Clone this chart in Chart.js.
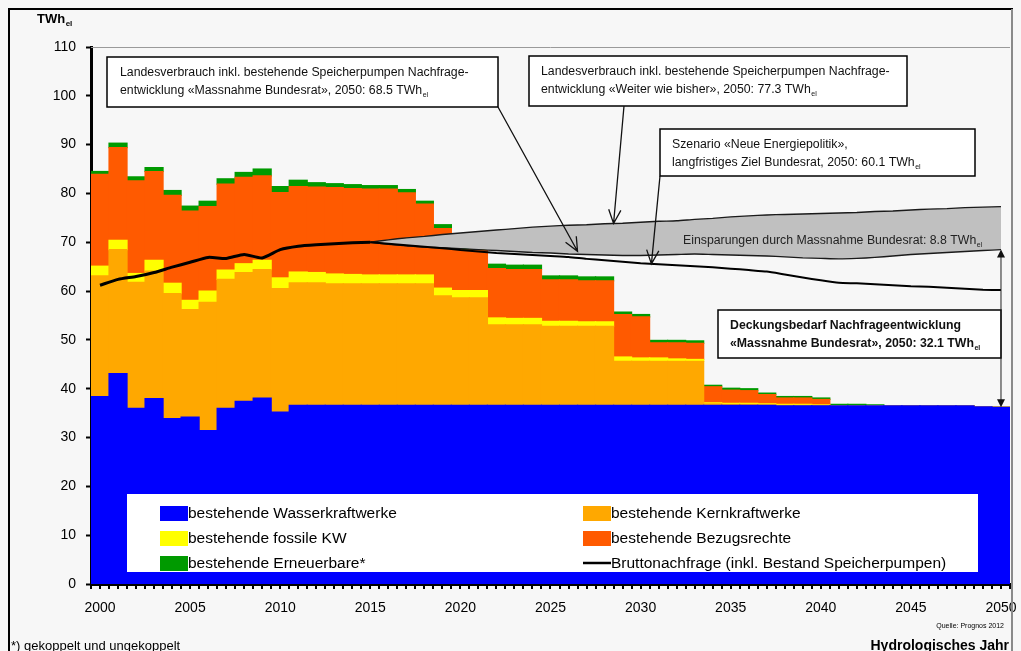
<!DOCTYPE html>
<html>
<head>
<meta charset="utf-8">
<script src="https://cdn.jsdelivr.net/npm/chart.js@4.4.1/dist/chart.umd.min.js"></script>
<style>
  html, body { margin: 0; padding: 0; background: #f7f7f7; }
  #wrap { position: relative; width: 1021px; height: 651px; }
</style>
</head>
<body>
<div id="wrap"><canvas id="chart" width="1021" height="651"></canvas></div>
<script>
// categories: hydrological years
const years = [
  2000, 2001, 2002, 2003, 2004, 2005, 2006, 2007, 2008, 2009,
  2010, 2011, 2012, 2013, 2014, 2015, 2016, 2017, 2018, 2019,
  2020, 2021, 2022, 2023, 2024, 2025, 2026, 2027, 2028, 2029,
  2030, 2031, 2032, 2033, 2034, 2035, 2036, 2037, 2038, 2039,
  2040, 2041, 2042, 2043, 2044, 2045, 2046, 2047, 2048, 2049,
  2050
];

// supply stack, TWh_el
const wasserkraft = [
  38.4, 43.1, 36.0, 38.0, 33.9, 34.2, 31.4, 36.0, 37.4, 38.1,
  35.2, 36.6, 36.6, 36.6, 36.6, 36.6, 36.6, 36.6, 36.6, 36.6,
  36.6, 36.6, 36.6, 36.6, 36.6, 36.6, 36.6, 36.6, 36.6, 36.6,
  36.6, 36.6, 36.6, 36.6, 36.6, 36.6, 36.6, 36.6, 36.5, 36.5,
  36.5, 36.5, 36.5, 36.5, 36.5, 36.5, 36.5, 36.5, 36.5, 36.3,
  36.2
];
const kernkraft = [
  24.7, 25.4, 25.8, 26.1, 25.6, 22.0, 26.3, 26.4, 26.4, 26.3,
  25.3, 25.1, 25.1, 24.9, 24.9, 24.9, 24.9, 24.9, 24.9, 22.4,
  22.0, 22.0, 16.5, 16.5, 16.5, 16.2, 16.2, 16.2, 16.2, 9.0,
  9.0, 9.0, 9.0, 9.0, 0.3, 0.2, 0.2, 0.1, 0.1, 0.1,
  0.1, 0, 0, 0, 0, 0, 0, 0, 0, 0,
  0
];
const fossil = [
  2.0, 1.9, 1.8, 2.2, 2.1, 1.9, 2.3, 1.9, 1.8, 1.9,
  2.2, 2.2, 2.1, 2.0, 1.9, 1.8, 1.8, 1.8, 1.8, 1.6,
  1.5, 1.5, 1.4, 1.3, 1.3, 1.0, 1.0, 0.9, 0.9, 0.9,
  0.7, 0.7, 0.5, 0.4, 0.2, 0.2, 0.2, 0.2, 0.2, 0.2,
  0.1, 0, 0, 0, 0, 0, 0, 0, 0, 0,
  0
];
const bezugsrechte = [
  18.8, 19.0, 19.0, 18.2, 18.0, 18.3, 17.3, 17.6, 17.7, 17.3,
  17.5, 17.5, 17.5, 17.7, 17.6, 17.6, 17.6, 16.8, 14.5, 12.2,
  8.3, 8.3, 10.1, 10.0, 10.0, 8.5, 8.5, 8.4, 8.4, 8.7,
  8.4, 3.1, 3.3, 3.3, 3.3, 2.7, 2.6, 1.9, 1.3, 1.3,
  1.1, 0, 0, 0, 0, 0, 0, 0, 0, 0,
  0
];
const erneuerbare = [
  0.6, 0.9, 0.8, 0.8, 1.0, 1.0, 1.1, 1.1, 1.0, 1.4,
  1.2, 1.3, 0.9, 0.8, 0.8, 0.7, 0.7, 0.7, 0.6, 0.8,
  0.3, 0.3, 0.9, 0.9, 0.9, 0.8, 0.8, 0.8, 0.8, 0.5,
  0.5, 0.5, 0.5, 0.5, 0.3, 0.4, 0.4, 0.3, 0.3, 0.3,
  0.3, 0.3, 0.3, 0.2, 0, 0, 0, 0, 0, 0,
  0
];

// demand lines, TWh_el
const bruttonachfrage = [
  61.2, 62.4, 63.0, 63.8, 64.9, 65.9, 66.9, 66.7, 67.5, 66.8,
  68.5, 69.2, 69.5, 69.7, 69.9, 70.0, null, null, null, null,
  null, null, null, null, null, null, null, null, null, null,
  null, null, null, null, null, null, null, null, null, null,
  null, null, null, null, null, null, null, null, null, null,
  null
];
const weiterWieBisher = [
  null, null, null, null, null, null, null, null, null, null,
  null, null, null, null, null, 70.0, 70.5, 70.9, 71.2, 71.6,
  71.9, 72.2, 72.5, 72.8, 73.1, 73.3, 73.5, 73.6, 73.8, 73.9,
  74.1, 74.3, 74.4, 74.7, 74.9, 75.2, 75.4, 75.6, 75.7, 75.8,
  75.9, 76.0, 76.1, 76.3, 76.4, 76.6, 76.8, 76.9, 77.1, 77.2,
  77.3
];
const massnahmeBundesrat = [
  null, null, null, null, null, null, null, null, null, null,
  null, null, null, null, null, 70.0, 69.6, 69.3, 69.0, 68.9,
  68.7, 68.5, 68.3, 68.1, 67.9, 67.8, 67.6, 67.5, 67.4, 67.3,
  67.3, 67.4, 67.5, 67.6, 67.5, 67.4, 67.3, 67.2, 67.0, 66.8,
  66.7, 66.6, 66.7, 66.9, 67.2, 67.5, 67.7, 67.9, 68.1, 68.3,
  68.5
];
const neueEnergiepolitik = [
  null, null, null, null, null, null, null, null, null, null,
  null, null, null, null, null, 70.0, 69.7, 69.4, 69.1, 68.8,
  68.4, 68.1, 67.8, 67.6, 67.4, 67.2, 67.0, 66.6, 66.3, 66.0,
  65.7, 65.5, 65.3, 65.1, 64.9, 64.6, 64.3, 64.0, 63.4, 62.8,
  62.2, 61.7, 61.6, 61.4, 61.2, 61.0, 60.9, 60.7, 60.5, 60.3,
  60.2
];

const FONT = "'Liberation Sans', Arial, sans-serif";
Chart.defaults.font.family = FONT;
Chart.defaults.color = '#000';

// text with a subscript tail like TWh_el
function subText(ctx, x, y, main, sub, size, weight) {
  ctx.font = (weight || 'normal') + ' ' + size + 'px ' + FONT;
  ctx.textAlign = 'left';
  ctx.textBaseline = 'alphabetic';
  ctx.fillText(main, x, y);
  const w = ctx.measureText(main).width;
  if (sub) {
    ctx.font = (weight || 'normal') + ' ' + Math.round(size * 0.6) + 'px ' + FONT;
    ctx.fillText(sub, x + w + 0.5, y + size * 0.22);
  }
}

function arrow(ctx, x1, y1, x2, y2) {
  ctx.beginPath();
  ctx.moveTo(x1, y1);
  ctx.lineTo(x2, y2);
  const a = Math.atan2(y2 - y1, x2 - x1);
  const len = 15;
  ctx.moveTo(x2 - len * Math.cos(a - 0.42), y2 - len * Math.sin(a - 0.42));
  ctx.lineTo(x2, y2);
  ctx.lineTo(x2 - len * Math.cos(a + 0.42), y2 - len * Math.sin(a + 0.42));
  ctx.stroke();
}

// pixel position of a (possibly fractional) year on the category axis
function yearPx(chart, yr) {
  const xs = chart.scales.x;
  const i = Math.floor(yr - years[0]);
  const f = yr - years[0] - i;
  const a = xs.getPixelForValue(i);
  const b = xs.getPixelForValue(Math.min(i + 1, years.length - 1));
  return a + (b - a) * f;
}
function seriesAt(arr, yr) {
  const i = Math.floor(yr - years[0]);
  const f = yr - years[0] - i;
  const b = arr[Math.min(i + 1, arr.length - 1)];
  return arr[i] + (b - arr[i]) * f;
}

const overlay = {
  id: 'overlay',
  beforeDraw(chart) {
    const ctx = chart.ctx;
    ctx.save();
    ctx.fillStyle = '#f7f7f7';
    ctx.fillRect(0, 0, chart.width, chart.height);
    ctx.restore();
  },
  afterDatasetsDraw(chart) {
    const ctx = chart.ctx;
    const ys = chart.scales.y;
    ctx.save();

    // legend box inside the plot
    ctx.fillStyle = '#ffffff';
    ctx.fillRect(127, 494, 851, 78);
    const items = [
      { ds: 4, col: 0, row: 0 }, { ds: 5, col: 1, row: 0 },
      { ds: 6, col: 0, row: 1 }, { ds: 7, col: 1, row: 1 },
      { ds: 8, col: 0, row: 2 }, { ds: 3, col: 1, row: 2 }
    ];
    items.forEach(it => {
      const d = chart.data.datasets[it.ds];
      const x = it.col === 0 ? 160 : 583;
      const y = 513 + it.row * 25;
      if (d.type === 'line') {
        ctx.strokeStyle = '#000';
        ctx.lineWidth = 2.5;
        ctx.beginPath();
        ctx.moveTo(x, y);
        ctx.lineTo(x + 28, y);
        ctx.stroke();
      } else {
        ctx.fillStyle = d.backgroundColor;
        ctx.fillRect(x, y - 7, 28, 15);
      }
      ctx.fillStyle = '#000';
      ctx.font = '15.5px ' + FONT;
      ctx.textAlign = 'left';
      ctx.textBaseline = 'middle';
      ctx.fillText(d.label, x + 28, y + 1);
    });

    // annotation boxes
    const boxes = [
      { x: 107, y: 57, w: 391, h: 50, tx: 120, bold: false,
        lines: [['Landesverbrauch inkl. bestehende Speicherpumpen Nachfrage-', ''],
                ['entwicklung «Massnahme Bundesrat», 2050: 68.5 TWh', 'el']] },
      { x: 529, y: 56, w: 378, h: 50, tx: 541, bold: false,
        lines: [['Landesverbrauch inkl. bestehende Speicherpumpen Nachfrage-', ''],
                ['entwicklung «Weiter wie bisher», 2050: 77.3 TWh', 'el']] },
      { x: 660, y: 129, w: 315, h: 47, tx: 672, bold: false,
        lines: [['Szenario «Neue Energiepolitik»,', ''],
                ['langfristiges Ziel Bundesrat, 2050: 60.1 TWh', 'el']] },
      { x: 718, y: 310, w: 283, h: 48, tx: 730, bold: true,
        lines: [['Deckungsbedarf Nachfrageentwicklung', ''],
                ['«Massnahme Bundesrat», 2050: 32.1 TWh', 'el']] }
    ];
    boxes.forEach(b => {
      ctx.fillStyle = '#ffffff';
      ctx.fillRect(b.x, b.y, b.w, b.h);
      ctx.strokeStyle = '#000';
      ctx.lineWidth = 1.5;
      ctx.strokeRect(b.x, b.y, b.w, b.h);
      ctx.fillStyle = '#111';
      b.lines.forEach((ln, k) => {
        subText(ctx, b.tx, b.y + 19 + k * 18, ln[0], ln[1], 12.3, b.bold ? 'bold' : 'normal');
      });
    });

    // pointer lines to the demand curves
    ctx.strokeStyle = '#111';
    ctx.lineWidth = 1.3;
    arrow(ctx, 498, 107, yearPx(chart, 2026.5), ys.getPixelForValue(seriesAt(massnahmeBundesrat, 2026.5)) - 3);
    arrow(ctx, 624, 106, yearPx(chart, 2028.5), ys.getPixelForValue(seriesAt(weiterWieBisher, 2028.5)));
    arrow(ctx, 660, 176, yearPx(chart, 2030.6), ys.getPixelForValue(seriesAt(neueEnergiepolitik, 2030.6)));

    // savings label inside the grey band
    ctx.fillStyle = '#222';
    subText(ctx, 683, 244, 'Einsparungen durch Massnahme Bundesrat: 8.8 TWh', 'el', 12.3, 'normal');

    // vertical double arrow at 2050: demand minus existing supply
    const last = years.length - 1;
    const xa = chart.scales.x.getPixelForValue(last);
    const supply = wasserkraft[last] + kernkraft[last] + fossil[last] + bezugsrechte[last] + erneuerbare[last];
    const yTop = ys.getPixelForValue(massnahmeBundesrat[last]);
    const yBot = ys.getPixelForValue(supply);
    ctx.strokeStyle = '#222';
    ctx.lineWidth = 1;
    ctx.beginPath();
    ctx.moveTo(xa, yTop + 6);
    ctx.lineTo(xa, yBot - 6);
    ctx.stroke();
    ctx.fillStyle = '#111';
    ctx.beginPath();
    ctx.moveTo(xa, yTop); ctx.lineTo(xa - 4, yTop + 8); ctx.lineTo(xa + 4, yTop + 8); ctx.closePath();
    ctx.fill();
    ctx.beginPath();
    ctx.moveTo(xa, yBot); ctx.lineTo(xa - 4, yBot - 8); ctx.lineTo(xa + 4, yBot - 8); ctx.closePath();
    ctx.fill();

    ctx.restore();
  },
  afterDraw(chart) {
    const ctx = chart.ctx;
    const area = chart.chartArea;
    ctx.save();

    // x tick marks every half year
    const xs = chart.scales.x;
    const step = (xs.getPixelForValue(1) - xs.getPixelForValue(0)) / 2;
    ctx.strokeStyle = '#000';
    ctx.lineWidth = 2;
    ctx.beginPath();
    for (let x = area.left; x <= area.right + 0.5; x += step) {
      ctx.moveTo(Math.round(x), area.bottom);
      ctx.lineTo(Math.round(x), area.bottom + 5);
    }
    ctx.stroke();

    // plot top edge and outer frame
    ctx.strokeStyle = '#9a9a9a';
    ctx.lineWidth = 1;
    ctx.beginPath();
    ctx.moveTo(area.left, 47.5);
    ctx.lineTo(area.right, 47.5);
    ctx.stroke();
    ctx.strokeStyle = '#000';
    ctx.lineWidth = 2;
    ctx.beginPath();
    ctx.moveTo(9, 651);
    ctx.lineTo(9, 9);
    ctx.lineTo(1013, 9);
    ctx.stroke();
    ctx.strokeStyle = '#8a8a8a';
    ctx.lineWidth = 2;
    ctx.beginPath();
    ctx.moveTo(1012, 9);
    ctx.lineTo(1012, 651);
    ctx.stroke();

    // unit, source and footnotes
    ctx.fillStyle = '#000';
    subText(ctx, 37, 23, 'TWh', 'el', 13, 'bold');
    ctx.font = '13px ' + FONT;
    ctx.textAlign = 'left';
    ctx.textBaseline = 'alphabetic';
    ctx.fillText('*) gekoppelt und ungekoppelt', 11, 650);
    ctx.font = 'bold 14px ' + FONT;
    ctx.textAlign = 'right';
    ctx.fillText('Hydrologisches Jahr', 1009, 650);
    ctx.font = '7px ' + FONT;
    ctx.fillText('Quelle: Prognos 2012', 1004, 628);
    ctx.restore();
  }
};

const lineBase = { type: 'line', pointRadius: 0, pointHoverRadius: 0, tension: 0.2, spanGaps: false };

new Chart(document.getElementById('chart'), {
  type: 'bar',
  data: {
    labels: years,
    datasets: [
      Object.assign({}, lineBase, {
        label: 'Weiter wie bisher', data: weiterWieBisher, stack: 'w', order: 3,
        borderColor: '#1a1a1a', borderWidth: 1.4, backgroundColor: '#c0c0c0', fill: '+1'
      }),
      Object.assign({}, lineBase, {
        label: 'Massnahme Bundesrat', data: massnahmeBundesrat, stack: 'm', order: 2,
        borderColor: '#1a1a1a', borderWidth: 1.4, fill: false
      }),
      Object.assign({}, lineBase, {
        label: 'Neue Energiepolitik', data: neueEnergiepolitik, stack: 'n', order: 1,
        borderColor: '#000', borderWidth: 2, fill: false
      }),
      Object.assign({}, lineBase, {
        label: 'Bruttonachfrage (inkl. Bestand Speicherpumpen)', data: bruttonachfrage, stack: 'b', order: 0,
        borderColor: '#000', borderWidth: 3, fill: false
      }),
      { label: 'bestehende Wasserkraftwerke', data: wasserkraft, backgroundColor: '#0000ff', stack: 's', order: 4 },
      { label: 'bestehende Kernkraftwerke', data: kernkraft, backgroundColor: '#ffa800', stack: 's', order: 4 },
      { label: 'bestehende fossile KW', data: fossil, backgroundColor: '#ffff00', stack: 's', order: 4 },
      { label: 'bestehende Bezugsrechte', data: bezugsrechte, backgroundColor: '#ff5a00', stack: 's', order: 4 },
      { label: 'bestehende Erneuerbare*', data: erneuerbare, backgroundColor: '#009a00', stack: 's', order: 4 }
    ]
  },
  options: {
    responsive: false,
    animation: false,
    devicePixelRatio: 1,
    datasets: { bar: { barPercentage: 1, categoryPercentage: 1, borderWidth: 0, inflateAmount: 0.6 } },
    layout: { padding: { left: 0, top: 47, right: 11, bottom: 0 } },
    plugins: { legend: { display: false }, tooltip: { enabled: false } },
    scales: {
      x: {
        stacked: true,
        offset: true,
        grid: { display: true, drawOnChartArea: false, drawTicks: false },
        border: { display: true, color: '#000', width: 3 },
        ticks: {
          autoSkip: false, maxRotation: 0, padding: 16,
          font: { size: 14 }, color: '#000',
          callback: (v, i) => (years[i] % 5 === 0 ? String(years[i]) : '')
        },
        afterFit: s => { s.height = 67; s.paddingLeft = 0; s.paddingRight = 0; }
      },
      y: {
        stacked: true,
        min: 0, max: 110,
        ticks: { stepSize: 10, padding: 10, font: { size: 14 }, color: '#000' },
        grid: { drawOnChartArea: false, drawTicks: true, tickLength: 5, tickColor: '#000', tickWidth: 2 },
        border: { display: true, color: '#000', width: 3 },
        afterFit: s => { s.width = 91; s.paddingTop = 0; s.paddingBottom = 0; }
      }
    }
  },
  plugins: [overlay]
});
</script>
</body>
</html>
